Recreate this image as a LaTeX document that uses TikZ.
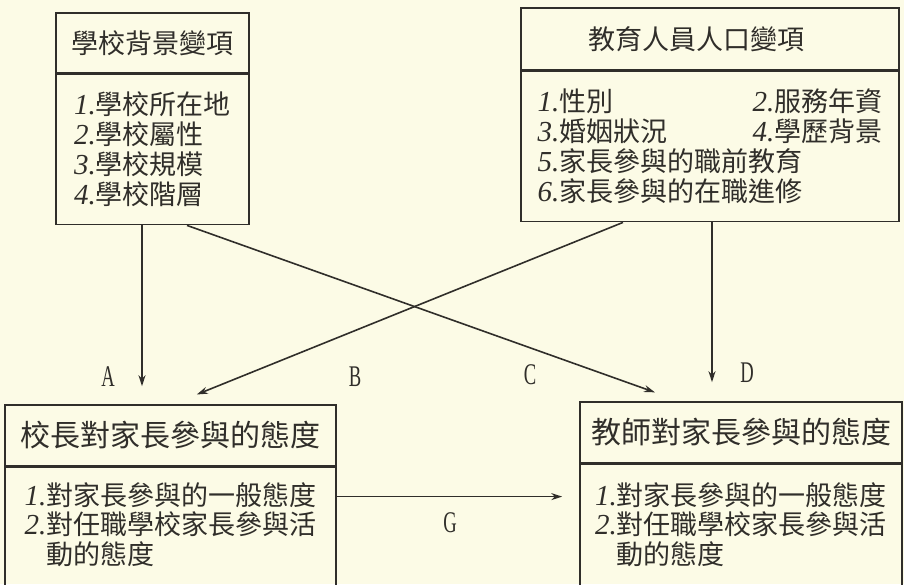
\documentclass[tikz,border=0pt]{standalone}
\usepackage{fontspec}
\usepackage{graphicx}
\newfontfamily\cjk{Noto Sans CJK TC}
\newfontfamily\numfont{Liberation Serif}
\usetikzlibrary{arrows.meta}
\definecolor{paper}{RGB}{252,251,230}
\definecolor{ink}{RGB}{48,46,42}
\newcommand{\itemno}[1]{{\numfont\itshape\fontsize{29}{30}\selectfont #1.}}
\newcommand{\pathlabel}[1]{\scalebox{0.62}[1]{#1}}
\tikzset{box/.style={draw=ink, inner sep=0pt},
         boxtitle/.style={box, font={\fontsize{27}{30}\selectfont\cjk}},
         bigtitle/.style={box, font={\fontsize{30}{32}\selectfont\cjk}},
         boxbody/.style={box, align=left, font={\fontsize{27}{30}\selectfont\cjk}},
         boxlist/.style={inner sep=0pt, align=left,
                         font={\fontsize{27}{29.5}\selectfont\cjk}},
         pathlbl/.style={inner sep=0pt, font={\fontsize{30}{30}\selectfont\numfont}}}

\begin{document}
\begin{tikzpicture}[x=1pt, y=-1pt, ink, line width=1.6pt,
                    >={Stealth[length=11pt, width=7pt]}]
  \useasboundingbox (0,0) rectangle (904,584);
  \fill[paper] (0,0) rectangle (904,584);
  \clip (0,0) rectangle (904,584);
  % school background
  \node[boxtitle, minimum width=193pt, minimum height=60pt] (bgtitle)
    at (152.5,43) {學校背景變項};
  \node[boxbody, minimum width=193pt, minimum height=150pt, anchor=north]
    (bgbody) at (bgtitle.south)
    {\itemno{1}學校所在地\\ \itemno{2}學校屬性\\ \itemno{3}學校規模\\
     \itemno{4}學校階層};
  % staff demographics
  \node[boxtitle, minimum width=378pt, minimum height=62pt] (hrtitle)
    at (710,39) {\hspace*{-28pt}教育人員人口變項};
  \node[boxbody, minimum width=378pt, minimum height=150pt, anchor=north]
    (hrbody) at (hrtitle.south)
    {\makebox[215pt][l]{\itemno{1}性別}\itemno{2}服務年資\\
     \makebox[215pt][l]{\itemno{3}婚姻狀況}\itemno{4}學歷背景\\
     \itemno{5}家長參與的職前教育\\ \itemno{6}家長參與的在職進修};
  % principals
  \node[bigtitle, minimum width=331pt, minimum height=61pt] (ptitle)
    at (170.5,435.5) {校長對家長參與的態度};
  \node[box, minimum width=331pt, minimum height=134pt, anchor=north]
    (pbody) at (ptitle.south) {};
  \node[boxlist] (plist) at ([yshift=10pt]pbody.center)
    {\itemno{1}對家長參與的一般態度\\ \itemno{2}對任職學校家長參與活\\
     \phantom{\itemno{2}}動的態度};
  % teachers
  \node[bigtitle, minimum width=322pt, minimum height=61pt] (ttitle)
    at (741,432.5) {教師對家長參與的態度};
  \node[box, minimum width=322pt, minimum height=137pt, anchor=north]
    (tbody) at (ttitle.south) {};
  \node[boxlist] (tlist) at ([yshift=8.5pt]tbody.center)
    {\itemno{1}對家長參與的一般態度\\ \itemno{2}對任職學校家長參與活\\
     \phantom{\itemno{2}}動的態度};
  % paths
  \draw[->, shorten >=18pt] ([xshift=-10.5pt]bgbody.south)
    -- ([xshift=-28.5pt]ptitle.north);
  \draw[->, shorten >=26pt] ([xshift=-87pt]hrbody.south)
    -- ([xshift=2.2pt]ptitle.north);
  \draw[->, shorten >=26.4pt] ([xshift=34.5pt]bgbody.south)
    -- ([xshift=-61.2pt]ttitle.north);
  \draw[->, shorten >=19pt] ([xshift=2pt]hrbody.south)
    -- ([xshift=-29pt]ttitle.north);
  \draw[->, shorten >=17pt] ([yshift=38pt]pbody.east)
    -- ([yshift=36.5pt]tbody.west);
  \node[pathlbl] (labA) at (108,377) {\pathlabel{A}};
  \node[pathlbl] (labB) at (355,377) {\pathlabel{B}};
  \node[pathlbl] (labC) at (530,375) {\pathlabel{C}};
  \node[pathlbl] (labD) at (747,373) {\pathlabel{D}};
  \node[pathlbl] (labG) at (450,523) {\pathlabel{G}};
\end{tikzpicture}
\end{document}
